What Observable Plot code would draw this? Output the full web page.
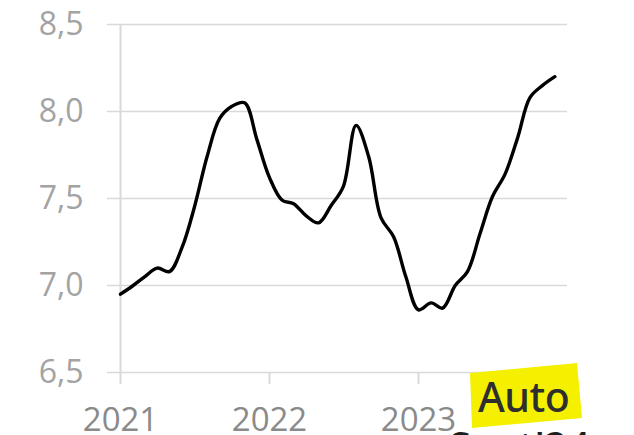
<!DOCTYPE html>
<html>
<head>
<meta charset="utf-8">
<script src="https://cdn.jsdelivr.net/npm/d3@7"></script>
<script src="https://cdn.jsdelivr.net/npm/@observablehq/plot@0.6"></script>
<style>
  html, body { margin: 0; padding: 0; background: #fff; }
  #wrap { position: relative; width: 634px; height: 435px; overflow: hidden; font-family: "Open Sans", sans-serif; }
  #chart svg { display: block; overflow: visible; }
  #auto {
    position: absolute; left: 468px; top: 362px; width: 116px; height: 68px;
    background: #f4f000;
    clip-path: polygon(2px 11px, 109px 1px, 114px 56px, 4px 66px);
  }
  #auto span {
    position: absolute; left: 10px; top: 6px;
    font-family: "Noto Sans", sans-serif; font-size: 41px; font-weight: 500; color: #2e2e2e; letter-spacing: -0.5px;
  }
  #cut {
    position: absolute; left: 449px; top: 418px;
    font-family: "Noto Sans", sans-serif; font-size: 40px; font-weight: 500; color: #1e1e1e; white-space: nowrap;
  }
</style>
</head>
<body>
<div id="wrap">
  <div id="chart"></div>
  <div id="cut">Sept'24</div>
  <div id="auto"><span>Auto</span></div>
</div>
<script>
const months = [
  "2021-01","2021-02","2021-03","2021-04","2021-05","2021-06","2021-07","2021-08","2021-09","2021-10","2021-11","2021-12",
  "2022-01","2022-02","2022-03","2022-04","2022-05","2022-06","2022-07","2022-08","2022-09","2022-10","2022-11","2022-12",
  "2023-01","2023-02","2023-03","2023-04","2023-05","2023-06","2023-07","2023-08","2023-09","2023-10","2023-11","2023-12"
];
const values = [
  6.95, 7.00, 7.05, 7.10, 7.08, 7.22, 7.45, 7.74, 7.96, 8.03, 8.05, 7.84,
  7.62, 7.49, 7.47, 7.40, 7.36, 7.46, 7.57, 7.92, 7.74, 7.39, 7.28, 7.05,
  6.86, 6.90, 6.87, 7.00, 7.08, 7.30, 7.51, 7.64, 7.85, 8.08, 8.15, 8.20
];
const yTicks = [6.5, 7.0, 7.5, 8.0, 8.5];
const xTickYears = [2021, 2022, 2023, 2024];
const xTickLabels = ["2021", "2022", "2023", ""];

const data = months.map((m, i) => ({date: new Date(m + "-01T00:00:00Z"), value: values[i]}));
const xTicks = xTickYears.map(y => new Date(Date.UTC(y, 0, 1)));

const chart = Plot.plot({
  width: 634,
  height: 435,
  marginLeft: 120,
  marginRight: 67,
  marginTop: 24,
  marginBottom: 63,
  style: {fontFamily: "'Open Sans', sans-serif", background: "white"},
  x: {type: "utc", domain: [xTicks[0], xTicks[xTicks.length - 1]]},
  y: {domain: [6.5, 8.5]},
  marks: [
    Plot.gridY(yTicks, {stroke: "#d9d9d9", strokeOpacity: 1, strokeWidth: 1.5}),
    Plot.ruleX([xTicks[0]], {y1: 6.5, y2: 8.5, stroke: "#d9d9d9", strokeWidth: 2}),
    Plot.axisY(yTicks, {
      tickSize: 13, tickPadding: 24, stroke: "#d9d9d9", strokeWidth: 1.5,
      fill: "#a3a3a3", fontSize: 32, label: null,
      tickFormat: d => d.toFixed(1).replace(".", ",")
    }),
    Plot.axisX(xTicks, {
      tickSize: 12, tickPadding: 23, stroke: "#d9d9d9", strokeWidth: 2,
      fill: "#8a8a8a", fontSize: 33, label: null,
      tickFormat: (d, i) => xTickLabels[xTickYears.indexOf(d.getUTCFullYear())]
    }),
    Plot.lineY(data, {x: "date", y: "value", curve: "catmull-rom", stroke: "black", strokeWidth: 3.4, strokeLinejoin: "round", strokeLinecap: "round"})
  ]
});
document.getElementById("chart").appendChild(chart);
</script>
</body>
</html>
